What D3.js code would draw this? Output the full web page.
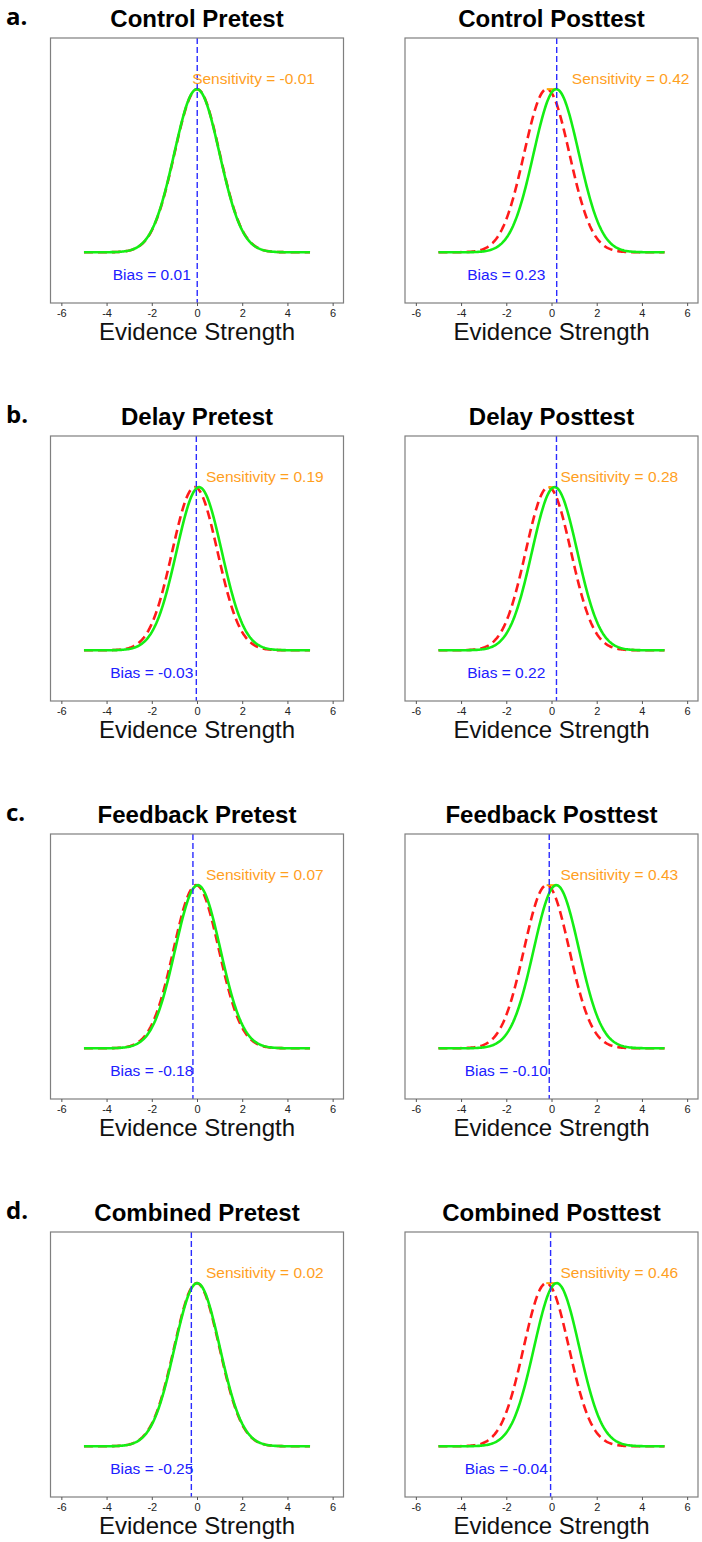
<!DOCTYPE html>
<html lang="en">
<head>
<meta charset="UTF-8">
<title>Evidence Strength distributions</title>
<style>
  body { margin: 0; background: #fff; }
  svg { display: block; font-family: "Liberation Sans", Arial, sans-serif; }
  .frame { fill: none; stroke: #7f7f7f; stroke-width: 1.2; }
  .tick line { stroke: #555; }
  .tick text { font-size: 11px; fill: #222; }
  .title { font-size: 24px; font-weight: bold; text-anchor: middle; }
  .letter { font-family: "Open Sans", sans-serif; font-size: 24px; font-weight: bold; }
  .xlab { font-size: 24px; text-anchor: middle; fill: #111; }
  .note { font-size: 15.5px; text-anchor: middle; }
</style>
<script src="https://d3js.org/d3.v7.min.js"></script>
</head>
<body>
<svg width="702" height="1542"></svg>
<script>
// values
const groups = ["Control", "Delay", "Feedback", "Combined"];
const rowLetters = ["a.", "b.", "c.", "d."];
const phases = ["Pretest", "Posttest"];
const sensitivity = [[-0.01, 0.42], [0.19, 0.28], [0.07, 0.43], [0.02, 0.46]];
const bias = [[0.01, 0.23], [-0.03, 0.22], [-0.18, -0.10], [-0.25, -0.04]];
// where the labels sit, in evidence units
const sensLabelX = [[2.5, 3.5], [3, 3], [3, 3], [3, 3]];
const biasLabelX = -2;
const xTicks = [-6, -4, -2, 0, 2, 4, 6];
const curveRange = [-5, 5];

const svg = d3.select("svg");
svg.append("rect").attr("width", 702).attr("height", 1542).attr("fill", "#fff");

const boxW = 293, boxH = 265;
const colX = [50.5, 405];
const rowTop = 38, rowStep = 398;

const x = d3.scaleLinear().domain([-6.48, 6.48]).range([0, boxW]);
const y = d3.scaleLinear().domain([-0.124, 0.524]).range([boxH, 0]);

// plain hyphen for negatives, like the original
const fmt = v => v.toFixed(2);

// standard normal density, sd = 1
const dnorm = (v, m) => Math.exp(-0.5 * (v - m) * (v - m)) / Math.sqrt(2 * Math.PI);
const grid = d3.range(curveRange[0], curveRange[1] + 1e-9, 0.05);

const line = d3.line()
    .x(d => x(d[0]))
    .y(d => y(d[1]));

groups.forEach((grp, r) => {
    const top = rowTop + r * rowStep;

    svg.append("text")
        .attr("class", "letter")
        .attr("x", 6)
        .attr("y", top - 13)
        .text(rowLetters[r]);

    phases.forEach((ph, c) => {
        const dp = sensitivity[r][c];
        const cr = bias[r][c];
        const g = svg.append("g")
            .attr("transform", `translate(${colX[c]},${top})`);

        // noise distribution (red, dashed) and signal distribution (green)
        const noise = grid.map(v => [v, dnorm(v, -dp / 2)]);
        const signal = grid.map(v => [v, dnorm(v, dp / 2)]);

        g.append("path")
            .attr("d", line(noise))
            .attr("fill", "none")
            .attr("stroke", "#ff1a1a")
            .attr("stroke-width", 2.6)
            .attr("stroke-dasharray", "9,5");

        g.append("line")
            .attr("x1", x(-dp / 2)).attr("x2", x(dp / 2))
            .attr("y1", y(dnorm(0, 0))).attr("y2", y(dnorm(0, 0)))
            .attr("stroke", "#ffa500")
            .attr("stroke-width", 2);

        g.append("path")
            .attr("d", line(signal))
            .attr("fill", "none")
            .attr("stroke", "#14ee14")
            .attr("stroke-width", 2.6);

        // criterion
        g.append("line")
            .attr("x1", x(cr)).attr("x2", x(cr))
            .attr("y1", 0).attr("y2", boxH)
            .attr("stroke", "#2b2bff")
            .attr("stroke-width", 1.4)
            .attr("stroke-dasharray", "6,3");

        g.append("text")
            .attr("class", "note")
            .attr("x", x(sensLabelX[r][c]))
            .attr("y", y(0.425))
            .attr("dy", "0.35em")
            .attr("fill", "#ffa01e")
            .text(`Sensitivity = ${fmt(dp)}`);

        g.append("text")
            .attr("class", "note")
            .attr("x", x(biasLabelX))
            .attr("y", y(-0.055))
            .attr("dy", "0.35em")
            .attr("fill", "#2020ff")
            .text(`Bias = ${fmt(cr)}`);

        g.append("rect")
            .attr("class", "frame")
            .attr("width", boxW)
            .attr("height", boxH);

        const ax = g.append("g")
            .attr("transform", `translate(0,${boxH})`)
            .call(d3.axisBottom(x).tickValues(xTicks).tickSize(3).tickPadding(3)
                .tickFormat(d => String(d)));
        ax.select(".domain").remove();
        ax.selectAll("text").attr("font-family", null).attr("font-size", null);

        g.append("text")
            .attr("class", "xlab")
            .attr("x", boxW / 2)
            .attr("y", boxH + 37)
            .text("Evidence Strength");

        g.append("text")
            .attr("class", "title")
            .attr("x", boxW / 2)
            .attr("y", -11)
            .text(`${grp} ${ph}`);
    });
});
</script>
</body>
</html>
